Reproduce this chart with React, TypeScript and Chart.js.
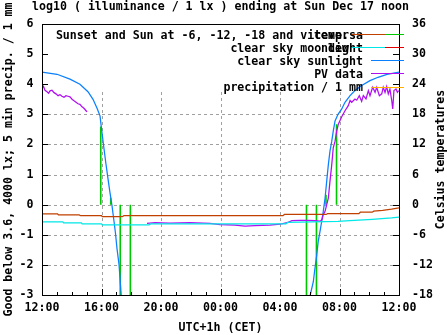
import React, { useEffect, useRef } from "react";
import { Chart, registerables } from "chart.js";

Chart.register(...registerables);

// ---------------- data ----------------
// time axis: hours after Sat 12:00 (0 = 12:00, 24 = 12:00 next day)
const xTickHours = [0, 4, 8, 12, 16, 20, 24];
const xTickLabels = ["12:00", "16:00", "20:00", "00:00", "04:00", "08:00", "12:00"];
const minorTickHours = [1, 2, 3, 5, 6, 7, 9, 10, 11, 13, 14, 15, 17, 18, 19, 21, 22, 23];

// clear sky sunlight, log10 lx (null = gap)
const sunHours = [
  0, 1.01, 1.88, 2.55, 3.09, 3.43, 3.7, 3.9, 4.03, 4.17, 4.3, 4.44, 4.57, 4.71, 4.84, 4.94, 5.04, 5.18, 5.31, 5.38,
  12,
  17.95, 18.02, 18.24, 18.35, 18.47, 18.57, 18.69, 18.8, 18.91, 19.03, 19.14, 19.25, 19.36, 19.48, 19.58, 19.7, 19.9,
  20.15, 20.37, 20.71, 21.04, 21.49, 22.05, 22.59, 23.19, 24,
];
const sunLog = [
  4.4, 4.33, 4.17, 4.0, 3.75, 3.5, 3.2, 2.95, 2.4, 1.85, 1.35, 0.85, 0.4, -0.05, -0.55, -0.95, -1.45, -2.0, -2.9, -3.5,
  null,
  -3.5, -3.03, -2.56, -2.11, -1.67, -1.22, -0.89, -0.56, -0.22, 0.22, 0.78, 1.33, 1.78, 2.11, 2.44, 2.78, 3.0,
  3.18, 3.4, 3.62, 3.79, 3.96, 4.12, 4.23, 4.33, 4.4,
];

// PV data, log10 lx
const pvHours = [
  0, 0.1, 0.2, 0.34, 0.44, 0.54, 0.67, 0.81, 0.94, 1.08, 1.21, 1.34, 1.48, 1.61, 1.75, 1.88, 2.02, 2.15, 2.29, 2.42,
  2.55, 2.69, 2.82, 2.96, 3.03,
  5,
  7.06, 7.6, 8.6, 9.95, 11.3, 11.97, 12.97, 13.65, 14.32, 15.33, 16.0, 16.47, 16.81, 17.34, 17.88, 18.35, 18.69, 18.82,
  18.91, 19.03, 19.14, 19.25, 19.36, 19.48, 19.58, 19.7, 19.81, 19.92, 20.15, 20.37, 20.59, 20.71, 20.82, 21.04,
  21.16, 21.33, 21.49, 21.6, 21.78, 21.94, 22.05, 22.23, 22.39, 22.5, 22.68, 22.84, 22.94, 23.06, 23.17, 23.28,
  23.39, 23.51, 23.58, 23.66, 23.8, 23.89, 23.98,
];
const pvLog = [
  3.87, 3.93, 3.8, 3.75, 3.7, 3.78, 3.8, 3.72, 3.68, 3.62, 3.65, 3.6, 3.57, 3.62, 3.6, 3.58, 3.5, 3.45, 3.4, 3.35,
  3.33, 3.25, 3.2, 3.12, 3.08,
  null,
  -0.62, -0.6, -0.61, -0.6, -0.62, -0.66, -0.68, -0.71, -0.7, -0.68, -0.65, -0.6, -0.53, -0.52, -0.52, -0.53, -0.55,
  -0.5, -0.33, -0.22, 0.0, 0.22, 0.78, 1.33, 1.89, 2.11, 2.44, 2.67, 2.92, 3.12, 3.29, 3.46, 3.4, 3.51,
  3.47, 3.62, 3.43, 3.62, 3.51, 3.79, 3.62, 3.9, 3.73, 3.9, 3.62, 3.68, 3.9, 3.73, 3.92, 3.68,
  3.84, 3.46, 3.18, 3.79, 3.84, 3.73, 3.79,
];

// Sunset / sunrise and sun at -6, -12, -18 degrees (evening then morning)
const sunEventHours = [3.95, 4.62, 5.26, 5.94, 17.78, 18.45, 19.09, 19.8];
const sunEventLog = [2.6, 0.23, -3, -3, -3, -3, 0.33, 2.67];

// temperatures, Celsius
const tempHours = [0, 1.05, 1.1, 2.5, 2.6, 4.0, 4.05, 5.4, 5.5, 16.2, 16.3, 19.1, 19.2, 21.3, 21.4, 22.2, 22.3, 22.9, 23.5, 24];
const tempC = [-1.85, -1.85, -2.05, -2.05, -2.2, -2.2, -2.4, -2.4, -2.2, -2.2, -1.95, -1.95, -1.8, -1.8, -1.5, -1.5, -1.3, -1.15, -0.9, -0.65];
const dewHours = [0, 1.4, 1.45, 2.65, 2.7, 4.0, 4.05, 7.2, 7.3, 16.4, 16.5, 19.9, 20.7, 22.2, 23.5, 24];
const dewC = [-3.45, -3.45, -3.65, -3.65, -3.85, -3.85, -4.05, -4.05, -3.85, -3.85, -3.55, -3.35, -3.2, -2.95, -2.65, -2.5];

// texts
const TITLE = "log10 ( illuminance / 1 lx ) ending at Sun Dec 17 noon";
const LEFT_TITLE = "Good below 3.6, 4000 lx; 5 min precip. / 1 mm";
const RIGHT_TITLE = "Celsius temperatures";
const X_TITLE = "UTC+1h (CET)";
const keyLabels = [
  "Sunset and Sun at -6, -12, -18 and viceversa",
  "clear sky moonlight",
  "clear sky sunlight",
  "PV data",
  "precipitation / 1 mm",
];
const keyColors = ["#00c800", "#e00000", "#0a80ff", "#b010f0", "#ffb000"];
const key2Labels = ["temp.", "dew"];
const key2Colors = ["#c04000", "#00e8e8"];

// ---------------- styling ----------------
const FONT_FAMILY = "'DejaVu Sans Mono', 'Liberation Mono', monospace";
const FONT_SIZE = 11.6;
const FONT = `bold ${FONT_SIZE}px ${FONT_FAMILY}`;
const KEY_BOTTOM = 92;

function pts(xs: number[], ys: (number | null)[]) {
  return xs.map((x, i) => ({ x, y: ys[i] }));
}

function line(ctx: CanvasRenderingContext2D, x1: number, y1: number, x2: number, y2: number) {
  ctx.beginPath();
  ctx.moveTo(x1, y1);
  ctx.lineTo(x2, y2);
  ctx.stroke();
}

const decorPlugin = {
  id: "gnuplotDecor",
  beforeDatasetsDraw(chart: any) {
    const { ctx, chartArea: a, scales } = chart;
    const xs = scales.x;
    const ys = scales.y;
    ctx.save();
    ctx.strokeStyle = "#a0a0a0";
    ctx.lineWidth = 1;
    ctx.setLineDash([3, 3]);
    for (const t of ys.ticks) {
      if (t.value === ys.min || t.value === ys.max) continue;
      const py = Math.round(ys.getPixelForValue(t.value)) + 0.5;
      if (py < KEY_BOTTOM) continue;
      line(ctx, a.left, py, a.right, py);
    }
    for (const h of xTickHours) {
      if (h === xs.min || h === xs.max) continue;
      const px = Math.round(xs.getPixelForValue(h)) + 0.5;
      line(ctx, px, KEY_BOTTOM, px, a.bottom);
    }
    ctx.restore();
  },
  afterDatasetsDraw(chart: any) {
    const { ctx, chartArea: a, scales } = chart;
    const xs = scales.x;
    const ys = scales.y;
    const y1 = scales.y1;
    ctx.save();
    ctx.setLineDash([]);
    ctx.strokeStyle = "#000";
    ctx.lineWidth = 1;
    // border
    ctx.strokeRect(a.left + 0.5, a.top + 0.5, a.right - a.left, a.bottom - a.top);
    // ticks (inward)
    for (const t of ys.ticks) {
      const py = Math.round(ys.getPixelForValue(t.value)) + 0.5;
      line(ctx, a.left, py, a.left + 6, py);
    }
    for (const t of y1.ticks) {
      const py = Math.round(y1.getPixelForValue(t.value)) + 0.5;
      line(ctx, a.right - 6, py, a.right, py);
    }
    for (const h of xTickHours) {
      const px = Math.round(xs.getPixelForValue(h)) + 0.5;
      line(ctx, px, a.bottom, px, a.bottom - 6);
    }
    for (const h of minorTickHours) {
      const px = Math.round(xs.getPixelForValue(h)) + 0.5;
      line(ctx, px, a.bottom, px, a.bottom - 3);
    }

    // keys
    ctx.font = FONT;
    ctx.fillStyle = "#000";
    ctx.textBaseline = "alphabetic";
    ctx.textAlign = "right";
    const rowY = (i: number) => 34 + i * 13.15;
    keyLabels.forEach((label, i) => {
      const yy = rowY(i);
      ctx.fillText(label, 363, yy + 4.5);
      ctx.strokeStyle = keyColors[i];
      line(ctx, 371, Math.round(yy) + 0.5, 404, Math.round(yy) + 0.5);
    });
    key2Labels.forEach((label, i) => {
      const yy = rowY(i);
      ctx.fillStyle = "#000";
      ctx.fillText(label, 349, yy + 4.5);
      ctx.strokeStyle = key2Colors[i];
      line(ctx, 352, Math.round(yy) + 0.5, 385, Math.round(yy) + 0.5);
    });

    // titles
    const cx = (a.left + a.right) / 2;
    const cy = (a.top + a.bottom) / 2;
    ctx.fillStyle = "#000";
    ctx.textAlign = "center";
    ctx.textBaseline = "alphabetic";
    ctx.fillText(TITLE, cx, 9.5);
    ctx.textBaseline = "middle";
    ctx.fillText(X_TITLE, cx, 327.5);
    ctx.save();
    ctx.translate(8.5, cy);
    ctx.rotate(-Math.PI / 2);
    ctx.fillText(LEFT_TITLE, 0, 0);
    ctx.restore();
    ctx.save();
    ctx.translate(440.5, cy);
    ctx.rotate(-Math.PI / 2);
    ctx.fillText(RIGHT_TITLE, 0, 0);
    ctx.restore();
    ctx.restore();
  },
};

export default function App() {
  const ref = useRef<HTMLCanvasElement>(null);

  useEffect(() => {
    if (!ref.current) return;
    const sunEventPts: { x: number; y: number | null }[] = [];
    sunEventHours.forEach((h, i) => {
      sunEventPts.push({ x: h, y: 0 }, { x: h, y: sunEventLog[i] }, { x: h + 0.001, y: null });
    });
    const base = { pointRadius: 0, borderWidth: 1.25, tension: 0, spanGaps: false, fill: false };
    const chart = new Chart(ref.current, {
      type: "line",
      data: {
        datasets: [
          { ...base, label: "dew", data: pts(dewHours, dewC), borderColor: key2Colors[1], yAxisID: "y1", order: 0 },
          { ...base, label: "temp.", data: pts(tempHours, tempC), borderColor: key2Colors[0], yAxisID: "y1", order: 1 },
          { ...base, label: keyLabels[3], data: pts(pvHours, pvLog), borderColor: keyColors[3], yAxisID: "y", order: 2 },
          { ...base, label: keyLabels[2], data: pts(sunHours, sunLog), borderColor: keyColors[2], yAxisID: "y", order: 3 },
          { ...base, borderWidth: 1.6, label: keyLabels[0], data: sunEventPts, borderColor: keyColors[0], yAxisID: "y", order: 4 },
        ] as any,
      },
      options: {
        animation: false,
        responsive: false,
        devicePixelRatio: 1,
        events: [],
        layout: { padding: { top: 24, left: 0, right: 0, bottom: 0 } },
        plugins: { legend: { display: false }, tooltip: { enabled: false }, title: { display: false } },
        scales: {
          x: {
            type: "linear",
            min: 0,
            max: 24,
            grid: { display: false, drawTicks: false },
            border: { display: false },
            afterFit: (s: any) => {
              s.height = 40;
            },
            ticks: {
              stepSize: 4,
              autoSkip: false,
              maxRotation: 0,
              padding: 6.5,
              color: "#000",
              font: { family: FONT_FAMILY, size: FONT_SIZE, weight: "bold" },
              callback: (v: any) => {
                const i = xTickHours.indexOf(Number(v));
                return i >= 0 ? xTickLabels[i] : "";
              },
            },
          },
          y: {
            type: "linear",
            position: "left",
            min: -3,
            max: 6,
            grid: { display: false, drawTicks: false },
            border: { display: false },
            afterFit: (s: any) => {
              s.width = 42;
            },
            ticks: {
              stepSize: 1,
              padding: 8.5,
              color: "#000",
              font: { family: FONT_FAMILY, size: FONT_SIZE, weight: "bold" },
            },
          },
          y1: {
            type: "linear",
            position: "right",
            min: -18,
            max: 36,
            grid: { display: false, drawTicks: false },
            border: { display: false },
            afterFit: (s: any) => {
              s.width = 48;
            },
            ticks: {
              stepSize: 6,
              padding: 13,
              color: "#000",
              font: { family: FONT_FAMILY, size: FONT_SIZE, weight: "bold" },
            },
          },
        },
      } as any,
      plugins: [decorPlugin],
    });
    return () => chart.destroy();
  }, []);

  return (
    <div style={{ position: "absolute", left: 0, top: 0, width: 447, height: 335, background: "#fff" }}>
      <canvas ref={ref} width={447} height={335} style={{ display: "block", width: 447, height: 335 }} />
    </div>
  );
}
